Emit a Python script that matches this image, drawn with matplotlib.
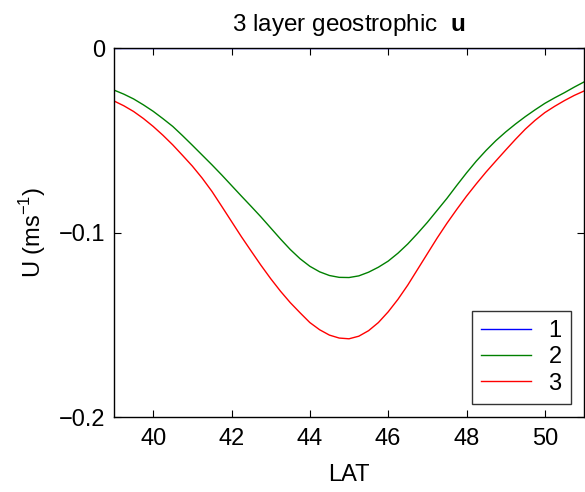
import matplotlib
matplotlib.use('Agg')
import matplotlib.pyplot as plt

plt.rcParams['font.family'] = ['Liberation Sans', 'DejaVu Sans']
plt.rcParams['mathtext.fontset'] = 'custom'
plt.rcParams['mathtext.rm'] = 'Liberation Sans'
plt.rcParams['mathtext.bf'] = 'Liberation Sans:bold'

# latitude grid (deg) and geostrophic velocity of each layer (m/s)
lat = [39.00, 39.25, 39.50, 39.75, 40.00, 40.25, 40.50, 40.75, 41.00, 41.25,
       41.50, 41.75, 42.00, 42.25, 42.50, 42.75, 43.00, 43.25, 43.50, 43.75,
       44.00, 44.25, 44.50, 44.75, 45.00, 45.25, 45.50, 45.75, 46.00, 46.25,
       46.50, 46.75, 47.00, 47.25, 47.50, 47.75, 48.00, 48.25, 48.50, 48.75,
       49.00, 49.25, 49.50, 49.75, 50.00, 50.25, 50.50, 50.75, 51.00]
u1 = [0.0] * len(lat)
u2 = [-0.0228, -0.0250, -0.0276, -0.0308, -0.0343, -0.0383, -0.0425, -0.0475,
      -0.0527, -0.0580, -0.0633, -0.0688, -0.0745, -0.0802, -0.0858, -0.0915,
      -0.0975, -0.1035, -0.1092, -0.1142, -0.1183, -0.1213, -0.1233, -0.1243,
      -0.1244, -0.1235, -0.1215, -0.1188, -0.1155, -0.1112, -0.1062, -0.1005,
      -0.0945, -0.0880, -0.0815, -0.0745, -0.0677, -0.0613, -0.0555, -0.0502,
      -0.0455, -0.0412, -0.0372, -0.0335, -0.0300, -0.0270, -0.0242, -0.0212,
      -0.0184]
u3 = [-0.0287, -0.0313, -0.0344, -0.0382, -0.0425, -0.0473, -0.0525, -0.0582,
      -0.0640, -0.0705, -0.0777, -0.0858, -0.0940, -0.1022, -0.1100, -0.1177,
      -0.1250, -0.1318, -0.1380, -0.1435, -0.1488, -0.1527, -0.1556, -0.1572,
      -0.1576, -0.1562, -0.1532, -0.1488, -0.1430, -0.1362, -0.1285, -0.1200,
      -0.1115, -0.1030, -0.0950, -0.0875, -0.0803, -0.0736, -0.0672, -0.0612,
      -0.0553, -0.0495, -0.0440, -0.0392, -0.0350, -0.0316, -0.0285, -0.0257,
      -0.0233]
layer_names = ['1', '2', '3']
layer_colors = ['#0000ff', '#008000', '#ff0000']

xticks = [40, 42, 44, 46, 48, 50]
yticks = [-0.2, -0.1, 0]
ytick_labels = ['\u22120.2', '\u22120.1', '0']

fig = plt.figure(figsize=(5.85, 4.92), dpi=100)
ax = fig.add_axes([0.1949, 0.1524, 0.8034, 0.75])

for vals, name, col in zip([u1, u2, u3], layer_names, layer_colors):
    ax.plot(lat, vals, color=col, lw=1.0, label=name)

ax.set_xlim(39, 51)
ax.set_ylim(-0.2, 0)
ax.set_xticks(xticks)
ax.set_yticks(yticks)
ax.set_yticklabels(ytick_labels)
ax.tick_params(direction='in', length=5, width=0.8, labelsize=17,
               top=True, right=True)
ax.tick_params(axis='x', pad=8)
ax.tick_params(axis='y', pad=6)
for sp in ax.spines.values():
    sp.set_linewidth(1.0)

ax.set_xlabel('LAT', fontsize=17, labelpad=10)
ax.set_ylabel('U (ms$^{-1}$)', fontsize=17, labelpad=8)
ax.set_title('3 layer geostrophic  $\\mathbf{u}$', fontsize=17.5, pad=12)

leg = ax.legend(loc='lower right', fontsize=17, frameon=True, fancybox=False,
                edgecolor='black', handlelength=2.1, handletextpad=0.75,
                borderaxespad=0.55, labelspacing=0.18, borderpad=0.4)
leg.get_frame().set_linewidth(1.0)

fig.savefig('out.png', dpi=100, facecolor='white')
